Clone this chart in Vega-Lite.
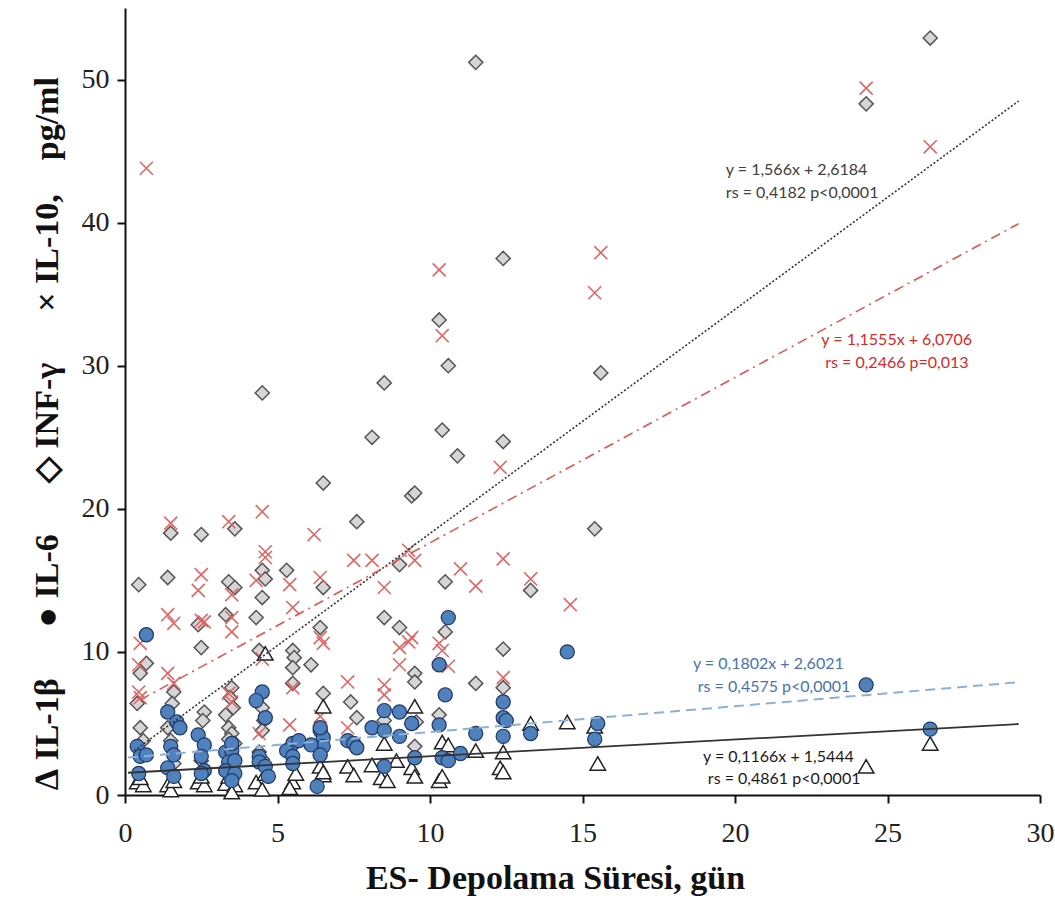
{
"$schema": "https://vega.github.io/schema/vega-lite/v6.json",
"width": 915, "height": 787,
"autosize": {"type": "none"},
"padding": {"left": 125, "top": 8, "right": 15, "bottom": 110},
"background": "white",
"config": {
  "view": {"stroke": null},
  "axis": {"domainColor": "#111", "domainWidth": 2, "tickColor": "#111", "tickWidth": 2, "tickSize": 8, "grid": false, "labelFlush": false,
    "labelFont": "Liberation Serif", "labelFontSize": 28, "labelColor": "#222",
    "titleFont": "Liberation Serif", "titleFontSize": 34, "titleFontWeight": "bold", "titleColor": "#111"}
},
"datasets": {
  "pts": [
    {"s":"IL-1β","x":0.4,"y":0.9},{"s":"IL-1β","x":0.6,"y":0.7},{"s":"IL-1β","x":0.5,"y":1.2},{"s":"IL-1β","x":1.4,"y":0.7},{"s":"IL-1β","x":1.5,"y":0.35},{"s":"IL-1β","x":1.6,"y":1.0},
    {"s":"IL-1β","x":2.4,"y":0.9},{"s":"IL-1β","x":2.6,"y":0.7},{"s":"IL-1β","x":2.5,"y":1.3},{"s":"IL-1β","x":3.3,"y":0.8},{"s":"IL-1β","x":3.6,"y":0.7},{"s":"IL-1β","x":3.5,"y":0.2},
    {"s":"IL-1β","x":3.4,"y":1.3},{"s":"IL-1β","x":4.3,"y":0.9},{"s":"IL-1β","x":4.5,"y":0.4},{"s":"IL-1β","x":4.6,"y":1.5},{"s":"IL-1β","x":4.6,"y":9.9},{"s":"IL-1β","x":5.5,"y":0.9},
    {"s":"IL-1β","x":5.4,"y":0.5},{"s":"IL-1β","x":5.6,"y":1.5},{"s":"IL-1β","x":6.5,"y":6.2},{"s":"IL-1β","x":6.4,"y":2.0},{"s":"IL-1β","x":6.5,"y":1.4},{"s":"IL-1β","x":6.5,"y":1.6},
    {"s":"IL-1β","x":7.3,"y":2.0},{"s":"IL-1β","x":7.5,"y":1.4},{"s":"IL-1β","x":8.1,"y":2.1},{"s":"IL-1β","x":8.5,"y":3.6},{"s":"IL-1β","x":8.4,"y":1.2},{"s":"IL-1β","x":8.6,"y":1.0},
    {"s":"IL-1β","x":8.9,"y":2.4},{"s":"IL-1β","x":9.4,"y":1.9},{"s":"IL-1β","x":9.5,"y":6.2},{"s":"IL-1β","x":9.5,"y":1.3},{"s":"IL-1β","x":10.3,"y":1.0},{"s":"IL-1β","x":10.4,"y":3.7},
    {"s":"IL-1β","x":10.6,"y":3.5},{"s":"IL-1β","x":10.4,"y":1.3},{"s":"IL-1β","x":11.5,"y":3.1},{"s":"IL-1β","x":12.4,"y":3.0},{"s":"IL-1β","x":12.3,"y":1.9},{"s":"IL-1β","x":12.4,"y":1.6},
    {"s":"IL-1β","x":13.3,"y":5.0},{"s":"IL-1β","x":14.5,"y":5.1},{"s":"IL-1β","x":15.4,"y":4.8},{"s":"IL-1β","x":15.5,"y":2.2},{"s":"IL-1β","x":24.3,"y":2.0},{"s":"IL-1β","x":26.4,"y":3.6},

    {"s":"IL-6","x":0.4,"y":3.4},{"s":"IL-6","x":0.5,"y":2.7},{"s":"IL-6","x":0.7,"y":2.8},{"s":"IL-6","x":0.45,"y":1.5},{"s":"IL-6","x":0.7,"y":11.2},
    {"s":"IL-6","x":1.4,"y":5.8},{"s":"IL-6","x":1.7,"y":5.1},{"s":"IL-6","x":1.8,"y":4.7},{"s":"IL-6","x":1.5,"y":3.4},{"s":"IL-6","x":1.6,"y":2.8},{"s":"IL-6","x":1.4,"y":1.9},{"s":"IL-6","x":1.6,"y":1.3},
    {"s":"IL-6","x":2.4,"y":4.2},{"s":"IL-6","x":2.6,"y":3.5},{"s":"IL-6","x":2.5,"y":2.7},{"s":"IL-6","x":2.6,"y":1.7},{"s":"IL-6","x":2.5,"y":1.5},
    {"s":"IL-6","x":3.3,"y":3.0},{"s":"IL-6","x":3.5,"y":3.1},{"s":"IL-6","x":3.4,"y":2.3},{"s":"IL-6","x":3.6,"y":2.4},{"s":"IL-6","x":3.3,"y":1.7},{"s":"IL-6","x":3.6,"y":1.5},{"s":"IL-6","x":3.5,"y":1.0},{"s":"IL-6","x":3.5,"y":3.6},
    {"s":"IL-6","x":4.5,"y":7.2},{"s":"IL-6","x":4.3,"y":6.6},{"s":"IL-6","x":4.6,"y":5.4},{"s":"IL-6","x":4.4,"y":2.7},{"s":"IL-6","x":4.4,"y":2.3},{"s":"IL-6","x":4.6,"y":2.0},{"s":"IL-6","x":4.7,"y":1.3},
    {"s":"IL-6","x":5.5,"y":3.6},{"s":"IL-6","x":5.3,"y":3.1},{"s":"IL-6","x":5.5,"y":2.7},{"s":"IL-6","x":5.5,"y":2.2},{"s":"IL-6","x":5.7,"y":3.8},
    {"s":"IL-6","x":6.4,"y":4.5},{"s":"IL-6","x":6.5,"y":4.0},{"s":"IL-6","x":6.5,"y":3.4},{"s":"IL-6","x":6.1,"y":3.5},{"s":"IL-6","x":6.4,"y":2.8},{"s":"IL-6","x":6.3,"y":0.6},{"s":"IL-6","x":6.4,"y":4.7},
    {"s":"IL-6","x":7.3,"y":3.8},{"s":"IL-6","x":7.5,"y":3.6},{"s":"IL-6","x":7.6,"y":3.3},
    {"s":"IL-6","x":8.5,"y":5.9},{"s":"IL-6","x":8.1,"y":4.7},{"s":"IL-6","x":8.5,"y":4.5},{"s":"IL-6","x":8.5,"y":2.0},{"s":"IL-6","x":9.0,"y":5.8},{"s":"IL-6","x":9.0,"y":4.1},
    {"s":"IL-6","x":9.5,"y":2.6},{"s":"IL-6","x":9.4,"y":5.0},
    {"s":"IL-6","x":10.6,"y":12.4},{"s":"IL-6","x":10.3,"y":9.1},{"s":"IL-6","x":10.5,"y":7.0},{"s":"IL-6","x":10.3,"y":4.9},{"s":"IL-6","x":10.4,"y":2.6},{"s":"IL-6","x":10.6,"y":2.4},
    {"s":"IL-6","x":11.0,"y":2.9},{"s":"IL-6","x":11.5,"y":4.3},{"s":"IL-6","x":12.4,"y":6.5},{"s":"IL-6","x":12.4,"y":5.4},{"s":"IL-6","x":12.5,"y":5.2},{"s":"IL-6","x":12.4,"y":4.1},
    {"s":"IL-6","x":13.3,"y":4.3},{"s":"IL-6","x":14.5,"y":10.0},{"s":"IL-6","x":15.4,"y":3.9},{"s":"IL-6","x":15.5,"y":5.0},{"s":"IL-6","x":24.3,"y":7.7},{"s":"IL-6","x":26.4,"y":4.6},

    {"s":"INF-γ","x":0.45,"y":14.7},{"s":"INF-γ","x":0.7,"y":9.2},{"s":"INF-γ","x":0.5,"y":8.5},{"s":"INF-γ","x":0.4,"y":6.4},{"s":"INF-γ","x":0.5,"y":4.7},{"s":"INF-γ","x":0.6,"y":3.8},
    {"s":"INF-γ","x":1.5,"y":18.3},{"s":"INF-γ","x":1.4,"y":15.2},{"s":"INF-γ","x":1.6,"y":7.2},{"s":"INF-γ","x":1.55,"y":6.4},{"s":"INF-γ","x":1.4,"y":4.7},{"s":"INF-γ","x":1.5,"y":3.8},{"s":"INF-γ","x":1.6,"y":2.2},
    {"s":"INF-γ","x":2.5,"y":18.2},{"s":"INF-γ","x":2.4,"y":11.9},{"s":"INF-γ","x":2.5,"y":10.3},{"s":"INF-γ","x":2.6,"y":5.8},{"s":"INF-γ","x":2.55,"y":5.2},{"s":"INF-γ","x":2.5,"y":2.4},
    {"s":"INF-γ","x":3.6,"y":18.6},{"s":"INF-γ","x":3.4,"y":14.9},{"s":"INF-γ","x":3.6,"y":14.5},{"s":"INF-γ","x":3.3,"y":12.6},{"s":"INF-γ","x":3.5,"y":7.5},{"s":"INF-γ","x":3.45,"y":6.8},
    {"s":"INF-γ","x":3.55,"y":6.1},{"s":"INF-γ","x":3.3,"y":5.6},{"s":"INF-γ","x":3.4,"y":4.7},{"s":"INF-γ","x":3.5,"y":4.3},{"s":"INF-γ","x":3.6,"y":3.6},{"s":"INF-γ","x":3.4,"y":3.9},{"s":"INF-γ","x":3.5,"y":2.8},
    {"s":"INF-γ","x":4.5,"y":15.7},{"s":"INF-γ","x":4.6,"y":15.1},{"s":"INF-γ","x":4.5,"y":13.8},{"s":"INF-γ","x":4.3,"y":12.4},{"s":"INF-γ","x":4.5,"y":28.1},{"s":"INF-γ","x":4.4,"y":10.1},
    {"s":"INF-γ","x":4.5,"y":6.1},{"s":"INF-γ","x":4.55,"y":5.2},{"s":"INF-γ","x":4.5,"y":4.5},{"s":"INF-γ","x":4.4,"y":3.0},{"s":"INF-γ","x":4.5,"y":2.5},
    {"s":"INF-γ","x":5.3,"y":15.7},{"s":"INF-γ","x":5.5,"y":10.1},{"s":"INF-γ","x":5.55,"y":9.6},{"s":"INF-γ","x":5.5,"y":8.9},{"s":"INF-γ","x":6.1,"y":9.1},{"s":"INF-γ","x":5.5,"y":7.8},
    {"s":"INF-γ","x":6.5,"y":21.8},{"s":"INF-γ","x":6.5,"y":14.5},{"s":"INF-γ","x":6.4,"y":11.7},{"s":"INF-γ","x":6.5,"y":7.1},{"s":"INF-γ","x":6.4,"y":2.8},
    {"s":"INF-γ","x":7.6,"y":19.1},{"s":"INF-γ","x":7.4,"y":6.5},{"s":"INF-γ","x":7.6,"y":5.4},
    {"s":"INF-γ","x":8.1,"y":25.0},{"s":"INF-γ","x":8.5,"y":28.8},{"s":"INF-γ","x":8.5,"y":12.4},{"s":"INF-γ","x":8.5,"y":5.2},{"s":"INF-γ","x":9.0,"y":16.1},{"s":"INF-γ","x":9.0,"y":11.7},
    {"s":"INF-γ","x":9.4,"y":20.9},{"s":"INF-γ","x":9.5,"y":21.1},{"s":"INF-γ","x":9.5,"y":8.5},{"s":"INF-γ","x":9.5,"y":7.9},{"s":"INF-γ","x":9.4,"y":5.0},{"s":"INF-γ","x":9.55,"y":5.1},{"s":"INF-γ","x":9.5,"y":3.4},
    {"s":"INF-γ","x":10.3,"y":33.2},{"s":"INF-γ","x":10.6,"y":30.0},{"s":"INF-γ","x":10.4,"y":25.5},{"s":"INF-γ","x":10.5,"y":14.9},{"s":"INF-γ","x":10.5,"y":11.4},{"s":"INF-γ","x":10.3,"y":5.6},
    {"s":"INF-γ","x":10.9,"y":23.7},{"s":"INF-γ","x":11.5,"y":51.2},{"s":"INF-γ","x":11.5,"y":7.8},{"s":"INF-γ","x":12.4,"y":37.5},{"s":"INF-γ","x":12.4,"y":24.7},{"s":"INF-γ","x":12.4,"y":10.2},
    {"s":"INF-γ","x":12.4,"y":7.5},{"s":"INF-γ","x":13.3,"y":14.3},{"s":"INF-γ","x":15.4,"y":18.6},{"s":"INF-γ","x":15.6,"y":29.5},{"s":"INF-γ","x":24.3,"y":48.3},{"s":"INF-γ","x":26.4,"y":52.9},

    {"s":"IL-10","x":0.7,"y":43.8},{"s":"IL-10","x":0.5,"y":10.6},{"s":"IL-10","x":0.45,"y":9.1},{"s":"IL-10","x":0.5,"y":6.8},{"s":"IL-10","x":0.45,"y":7.2},
    {"s":"IL-10","x":1.5,"y":19.0},{"s":"IL-10","x":1.4,"y":12.6},{"s":"IL-10","x":1.6,"y":12.0},{"s":"IL-10","x":1.4,"y":8.5},{"s":"IL-10","x":1.6,"y":7.8},
    {"s":"IL-10","x":2.5,"y":15.4},{"s":"IL-10","x":2.4,"y":14.3},{"s":"IL-10","x":2.5,"y":12.2},{"s":"IL-10","x":2.6,"y":12.1},
    {"s":"IL-10","x":3.4,"y":19.1},{"s":"IL-10","x":3.5,"y":14.0},{"s":"IL-10","x":3.5,"y":12.4},{"s":"IL-10","x":3.5,"y":11.4},{"s":"IL-10","x":3.4,"y":7.1},{"s":"IL-10","x":3.5,"y":6.5},
    {"s":"IL-10","x":4.5,"y":19.8},{"s":"IL-10","x":4.6,"y":17.0},{"s":"IL-10","x":4.6,"y":16.6},{"s":"IL-10","x":4.3,"y":15.0},{"s":"IL-10","x":4.4,"y":4.3},{"s":"IL-10","x":4.5,"y":9.5},
    {"s":"IL-10","x":5.4,"y":14.7},{"s":"IL-10","x":5.5,"y":13.1},{"s":"IL-10","x":5.5,"y":7.5},{"s":"IL-10","x":5.4,"y":4.9},
    {"s":"IL-10","x":6.2,"y":18.2},{"s":"IL-10","x":6.4,"y":15.2},{"s":"IL-10","x":6.4,"y":11.0},{"s":"IL-10","x":6.5,"y":10.6},{"s":"IL-10","x":6.4,"y":5.5},
    {"s":"IL-10","x":7.5,"y":16.4},{"s":"IL-10","x":7.3,"y":7.9},{"s":"IL-10","x":7.3,"y":4.7},
    {"s":"IL-10","x":8.1,"y":16.4},{"s":"IL-10","x":8.5,"y":14.5},{"s":"IL-10","x":8.5,"y":7.7},{"s":"IL-10","x":8.5,"y":7.0},
    {"s":"IL-10","x":9.3,"y":17.1},{"s":"IL-10","x":9.5,"y":16.4},{"s":"IL-10","x":9.0,"y":10.3},{"s":"IL-10","x":9.0,"y":9.1},{"s":"IL-10","x":9.4,"y":11.0},{"s":"IL-10","x":9.3,"y":10.7},
    {"s":"IL-10","x":10.3,"y":36.7},{"s":"IL-10","x":10.4,"y":32.1},{"s":"IL-10","x":10.3,"y":10.6},{"s":"IL-10","x":10.4,"y":10.1},{"s":"IL-10","x":10.6,"y":9.0},
    {"s":"IL-10","x":11.0,"y":15.8},{"s":"IL-10","x":11.5,"y":14.6},{"s":"IL-10","x":12.3,"y":22.9},{"s":"IL-10","x":12.4,"y":16.5},{"s":"IL-10","x":12.4,"y":8.2},{"s":"IL-10","x":13.3,"y":15.1},
    {"s":"IL-10","x":14.6,"y":13.3},{"s":"IL-10","x":15.4,"y":35.1},{"s":"IL-10","x":15.6,"y":37.9},{"s":"IL-10","x":24.3,"y":49.4},{"s":"IL-10","x":26.4,"y":45.3}
  ],
  "lines": [
    {"s":"INF-γ","x":0.3,"y":3.088},{"s":"INF-γ","x":29.3,"y":48.50},
    {"s":"IL-10","x":0.5,"y":6.648},{"s":"IL-10","x":29.3,"y":39.93},
    {"s":"IL-6","x":0.1,"y":2.620},{"s":"IL-6","x":29.3,"y":7.882},
    {"s":"IL-1β","x":0.1,"y":1.556},{"s":"IL-1β","x":29.3,"y":4.961}
  ],
  "notes": [
    {"s":"INF-γ","x":19.7,"y":43.65,"t":"y = 1,566x + 2,6184"},
    {"s":"INF-γ","x":19.7,"y":42.1,"t":"rs = 0,4182  p<0,0001"},
    {"s":"IL-10","x":22.83,"y":31.77,"t":"y = 1,1555x + 6,0706"},
    {"s":"IL-10","x":22.96,"y":30.17,"t":"rs = 0,2466  p=0,013"},
    {"s":"IL-6","x":18.62,"y":9.15,"t":"y = 0,1802x + 2,6021"},
    {"s":"IL-6","x":18.78,"y":7.54,"t":"rs = 0,4575  p<0,0001"},
    {"s":"IL-1β","x":18.95,"y":2.65,"t":"y = 0,1166x + 1,5444"},
    {"s":"IL-1β","x":19.11,"y":1.12,"t":"rs = 0,4861  p<0,0001"}
  ]
},
"layer": [
  {
    "data": {"name": "pts"},
    "transform": [{"filter": "datum.s === 'INF-γ'"}],
    "mark": {"type": "point", "shape": "diamond", "size": 200, "filled": true, "fill": "#d6d6d6", "stroke": "#555555", "strokeWidth": 1.5, "opacity": 1},
    "encoding": {
      "x": {"field": "x", "type": "quantitative", "scale": {"domain": [0, 30], "nice": false, "zero": false},
        "axis": {"values": [0, 5, 10, 15, 20, 25, 30], "title": "ES- Depolama Süresi, gün", "labelPadding": 16, "titleX": 430, "titleY": 93, "titleBaseline": "alphabetic"}},
      "y": {"field": "y", "type": "quantitative", "scale": {"domain": [0, 55], "nice": false},
        "axis": {"values": [0, 10, 20, 30, 40, 50], "title": "∆ IL-1β\u2003\u2002● IL-6\u2003\u2002◇ INF-γ\u2003\u2002× IL-10,\u2003pg/ml", "labelPadding": 8, "titleX": -78, "titleY": 425, "titleBaseline": "middle"}}
    }
  },
  {
    "data": {"name": "pts"},
    "transform": [{"filter": "datum.s === 'IL-10'"}],
    "mark": {"type": "point", "shape": "M-1,-1L1,1M-1,1L1,-1", "size": 170, "filled": false, "stroke": "#e06666", "strokeWidth": 1.6, "opacity": 1},
    "encoding": {"x": {"field": "x", "type": "quantitative"}, "y": {"field": "y", "type": "quantitative"}}
  },
  {
    "data": {"name": "pts"},
    "transform": [{"filter": "datum.s === 'IL-1β'"}],
    "mark": {"type": "point", "shape": "triangle-up", "size": 240, "filled": true, "fill": "white", "stroke": "#222222", "strokeWidth": 1.5, "opacity": 1},
    "encoding": {"x": {"field": "x", "type": "quantitative"}, "y": {"field": "y", "type": "quantitative"}}
  },
  {
    "data": {"name": "pts"},
    "transform": [{"filter": "datum.s === 'IL-6'"}],
    "mark": {"type": "point", "shape": "circle", "size": 200, "filled": true, "fill": "#4f81bd", "stroke": "#1f3864", "strokeWidth": 1.2, "opacity": 1},
    "encoding": {"x": {"field": "x", "type": "quantitative"}, "y": {"field": "y", "type": "quantitative"}}
  },
  {
    "data": {"name": "lines"},
    "transform": [{"filter": "datum.s === 'INF-γ'"}],
    "mark": {"type": "line", "color": "#333333", "strokeWidth": 1.6, "strokeDash": [2, 2]},
    "encoding": {"x": {"field": "x", "type": "quantitative"}, "y": {"field": "y", "type": "quantitative"}}
  },
  {
    "data": {"name": "lines"},
    "transform": [{"filter": "datum.s === 'IL-10'"}],
    "mark": {"type": "line", "color": "#e05555", "strokeWidth": 1.6, "strokeDash": [10, 5, 2, 5]},
    "encoding": {"x": {"field": "x", "type": "quantitative"}, "y": {"field": "y", "type": "quantitative"}}
  },
  {
    "data": {"name": "lines"},
    "transform": [{"filter": "datum.s === 'IL-6'"}],
    "mark": {"type": "line", "color": "#8eafd6", "strokeWidth": 2, "strokeDash": [10, 6]},
    "encoding": {"x": {"field": "x", "type": "quantitative"}, "y": {"field": "y", "type": "quantitative"}}
  },
  {
    "data": {"name": "lines"},
    "transform": [{"filter": "datum.s === 'IL-1β'"}],
    "mark": {"type": "line", "color": "#333333", "strokeWidth": 1.8},
    "encoding": {"x": {"field": "x", "type": "quantitative"}, "y": {"field": "y", "type": "quantitative"}}
  },
  {
    "data": {"name": "notes"},
    "mark": {"type": "text", "align": "left", "baseline": "middle", "font": "Lato", "fontSize": 16},
    "encoding": {
      "x": {"field": "x", "type": "quantitative"},
      "y": {"field": "y", "type": "quantitative"},
      "text": {"field": "t"},
      "color": {"field": "s", "type": "nominal", "legend": null,
        "scale": {"domain": ["INF-γ", "IL-10", "IL-6", "IL-1β"], "range": ["#404040", "#d42a2a", "#4a72b0", "#1a1a1a"]}}
    }
  }
]
}
